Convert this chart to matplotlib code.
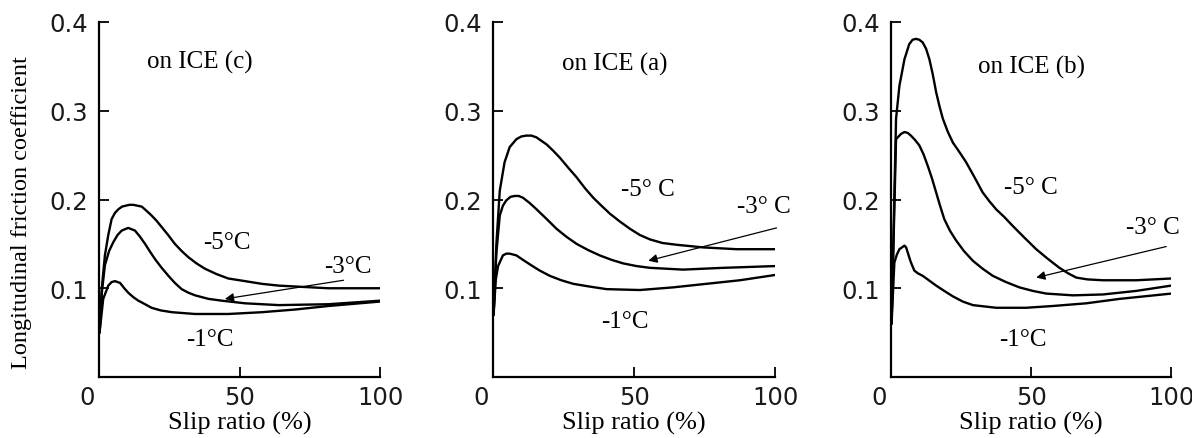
import matplotlib
matplotlib.use("Agg")
import matplotlib.pyplot as plt
from matplotlib.transforms import ScaledTranslation

# Longitudinal friction coefficient vs slip ratio on three ice surfaces
# values

# on ICE (c)
c_x5 = [0.2, 1.0, 2.1, 3.3, 4.5, 5.7, 6.9, 8.2, 9.5, 10.8, 12.2, 13.7, 15.2, 17.0, 18.7, 20.5, 22.3, 24.6,
        27.0, 29.4, 31.8, 34.7, 37.7, 41.8, 46.0, 52.0, 57.9, 63.8, 69.7, 75.6, 81.6, 90.0, 100]
c_y5 = [0.05, 0.100, 0.137, 0.160, 0.178, 0.185, 0.189, 0.192, 0.193, 0.194, 0.194, 0.193, 0.192, 0.187,
        0.182, 0.176, 0.169, 0.160, 0.150, 0.142, 0.135, 0.128, 0.122, 0.116, 0.111, 0.108, 0.105, 0.103,
        0.102, 0.101, 0.100, 0.100, 0.100]
c_x3 = [0.2, 1.0, 2.1, 3.6, 5.1, 6.6, 8.1, 10.4, 12.8, 14.6, 16.4, 18.2, 19.9, 22.3, 24.7, 27.0, 29.4, 31.8,
        34.2, 39.0, 43.7, 52.1, 64.0, 81.6, 100]
c_y3 = [0.05, 0.095, 0.126, 0.142, 0.152, 0.160, 0.165, 0.168, 0.165, 0.158, 0.150, 0.141, 0.133, 0.123,
        0.114, 0.106, 0.099, 0.095, 0.092, 0.088, 0.086, 0.083, 0.081, 0.082, 0.086]
c_x1 = [0.2, 1.5, 3.3, 4.5, 5.7, 7.5, 9.0, 10.4, 12.2, 14.0, 16.4, 18.7, 22.0, 26.0, 34.2, 46.0, 57.9, 69.7,
        81.6, 100]
c_y1 = [0.05, 0.088, 0.103, 0.107, 0.108, 0.106, 0.100, 0.095, 0.090, 0.086, 0.082, 0.078, 0.075, 0.073,
        0.071, 0.071, 0.073, 0.076, 0.080, 0.085]

# on ICE (a)
a_x5 = [0.2, 1.2, 2.4, 4.1, 5.9, 8.3, 10.0, 11.8, 13.6, 15.4, 17.2, 19.0, 21.3, 23.7, 26.6, 29.6, 32.5,
        35.5, 38.4, 41.4, 45.0, 48.5, 52.0, 55.6, 60.0, 65.0, 74.5, 86.3, 100]
a_y5 = [0.07, 0.150, 0.210, 0.242, 0.259, 0.268, 0.271, 0.272, 0.272, 0.270, 0.266, 0.262, 0.255, 0.247,
        0.236, 0.225, 0.213, 0.202, 0.193, 0.184, 0.175, 0.167, 0.160, 0.155, 0.151, 0.149, 0.146, 0.144,
        0.144]
a_x3 = [0.2, 1.2, 2.4, 3.5, 4.7, 6.2, 7.7, 9.1, 10.6, 13.0, 15.4, 19.0, 22.5, 26.0, 29.6, 33.7, 37.8,
        42.0, 46.1, 50.8, 55.6, 67.3, 81.5, 100]
a_y3 = [0.07, 0.140, 0.182, 0.193, 0.199, 0.203, 0.204, 0.204, 0.202, 0.196, 0.189, 0.178, 0.167, 0.158,
        0.150, 0.143, 0.137, 0.132, 0.128, 0.125, 0.123, 0.121, 0.123, 0.125]
a_x1 = [0.2, 1.0, 1.8, 3.5, 4.7, 5.9, 7.1, 8.3, 10.6, 13.0, 16.5, 20.1, 24.2, 28.4, 34.0, 40.2, 52.0,
        63.8, 75.6, 87.4, 100]
a_y1 = [0.07, 0.110, 0.125, 0.137, 0.139, 0.139, 0.138, 0.137, 0.132, 0.127, 0.120, 0.114, 0.109, 0.105,
        0.102, 0.099, 0.098, 0.101, 0.105, 0.109, 0.115]

# on ICE (b)
b_x5 = [0.2, 1.8, 3.0, 4.8, 6.5, 7.7, 8.9, 10.1, 11.3, 12.5, 13.7, 14.9, 16.1, 17.3, 18.5, 20.3, 22.1,
        24.5, 26.8, 29.8, 32.7, 35.1, 37.5, 40.5, 43.5, 47.6, 51.8, 56.0, 60.1, 63.1, 66.1, 70.0, 75.6,
        87.5, 100]
b_y5 = [0.06, 0.291, 0.328, 0.358, 0.375, 0.380, 0.381, 0.380, 0.377, 0.370, 0.358, 0.341, 0.321, 0.305,
        0.291, 0.276, 0.264, 0.253, 0.242, 0.225, 0.208, 0.198, 0.189, 0.180, 0.170, 0.157, 0.144, 0.133,
        0.123, 0.117, 0.112, 0.110, 0.109, 0.109, 0.111]
b_x3 = [0.2, 1.8, 3.6, 4.8, 6.0, 7.1, 8.6, 10.1, 11.6, 13.1, 14.6, 16.1, 17.5, 19.0, 21.0, 23.2, 26.0,
        29.2, 32.7, 36.3, 41.0, 45.8, 50.6, 55.4, 64.9, 75.6, 87.5, 100]
b_y3 = [0.06, 0.268, 0.274, 0.276, 0.275, 0.272, 0.267, 0.261, 0.251, 0.238, 0.224, 0.208, 0.193, 0.178,
        0.165, 0.154, 0.142, 0.131, 0.122, 0.114, 0.107, 0.101, 0.097, 0.094, 0.092, 0.093, 0.097, 0.103]
b_x1 = [0.2, 1.2, 2.1, 3.0, 4.8, 5.4, 6.0, 7.0, 8.3, 9.5, 11.3, 13.5, 16.1, 19.0, 22.0, 25.6, 29.2, 37.5,
        48.2, 57.7, 69.6, 81.5, 100]
b_y1 = [0.06, 0.129, 0.138, 0.144, 0.148, 0.146, 0.140, 0.130, 0.120, 0.117, 0.114, 0.109, 0.103, 0.097,
        0.091, 0.085, 0.081, 0.078, 0.078, 0.080, 0.083, 0.088, 0.094]

titles = ["on ICE (c)", "on ICE (a)", "on ICE (b)"]
x_ticks = [0, 50, 100]
y_ticks = [0.1, 0.2, 0.3, 0.4]
y_tick_labels = ["0.1", "0.2", "0.3", "0.4"]

serif = ["Liberation Serif", "DejaVu Serif"]

fig = plt.figure(figsize=(11.92, 4.39), dpi=100)
W, H = 1192, 439

# panel boxes in pixels: left, width
boxes = [(99, 281), (493, 282.4), (891, 280.3)]
bottom_px, height_px = 61, 355

panels = [
    dict(curves=[(c_x5, c_y5), (c_x3, c_y3), (c_x1, c_y1)],
         title_xy=(35.9, 0.356),
         l5=("-5°C", 45.5, 0.152), l3=("-3°C", 88.6, 0.125, "center"), l1=("-1°C", 39.5, 0.043),
         arrow=((87, 0.109), (44.8, 0.088))),
    dict(curves=[(a_x5, a_y5), (a_x3, a_y3), (a_x1, a_y1)],
         title_xy=(43.1, 0.353),
         l5=("-5° C", 54.8, 0.212), l3=("-3° C", 86.5, 0.193, "left"), l1=("-1°C", 46.6, 0.063),
         arrow=((100.4, 0.168), (55, 0.131))),
    dict(curves=[(b_x5, b_y5), (b_x3, b_y3), (b_x1, b_y1)],
         title_xy=(50.3, 0.350),
         l5=("-5° C", 50.0, 0.214), l3=("-3° C", 84.0, 0.169, "left"), l1=("-1°C", 46.9, 0.043),
         arrow=((98.2, 0.147), (51.8, 0.112))),
]

for i, p in enumerate(panels):
    left, width = boxes[i]
    ax = fig.add_axes([left / W, bottom_px / H, width / W, height_px / H])

    for xs, ys in p["curves"]:
        ax.plot(xs, ys, color="black", lw=1.7, solid_joinstyle="round", solid_capstyle="round")

    ax.set_xlim(0, 100)
    ax.set_ylim(0, 0.4)
    ax.set_xticks(x_ticks)
    ax.set_yticks(y_ticks)
    ax.set_yticklabels(y_tick_labels)
    ax.tick_params(direction="in", length=7, width=1.3, labelsize=17.5,
                   labelcolor="#1a1a1a", color="black")
    ax.tick_params(axis="y", pad=8)
    ax.tick_params(axis="x", pad=6)
    # the "0" sits a little left of the origin in the original
    zero = ax.get_xticklabels()[0]
    zero.set_transform(zero.get_transform() + ScaledTranslation(-0.12, 0, fig.dpi_scale_trans))
    for s in ["top", "right"]:
        ax.spines[s].set_visible(False)
    for s in ["left", "bottom"]:
        ax.spines[s].set_linewidth(1.6)

    ax.set_xlabel("Slip ratio (%)", family=serif, fontsize=19)
    ax.xaxis.label.set_va("center")
    ax.xaxis.set_label_coords(0.5, -0.128)

    ax.text(p["title_xy"][0], p["title_xy"][1], titles[i], family=serif, fontsize=18,
            ha="center", va="center")
    t, x, y = p["l5"]
    ax.text(x, y, t, family=serif, fontsize=18, ha="center", va="center")
    t, x, y, ha = p["l3"]
    ax.text(x, y, t, family=serif, fontsize=18, ha=ha, va="center", clip_on=False)
    t, x, y = p["l1"]
    ax.text(x, y, t, family=serif, fontsize=18, ha="center", va="center")

    tail, head = p["arrow"]
    ax.annotate("", xy=head, xytext=tail,
                arrowprops=dict(arrowstyle="-|>", color="black", lw=0.9,
                                mutation_scale=13, shrinkA=0, shrinkB=0),
                annotation_clip=False)

fig.text(22 / W, 1 - 213 / H, "Longitudinal friction coefficient", family=serif,
         fontsize=17.5, rotation=90, ha="center", va="center")

fig.savefig("out.png", dpi=100)
